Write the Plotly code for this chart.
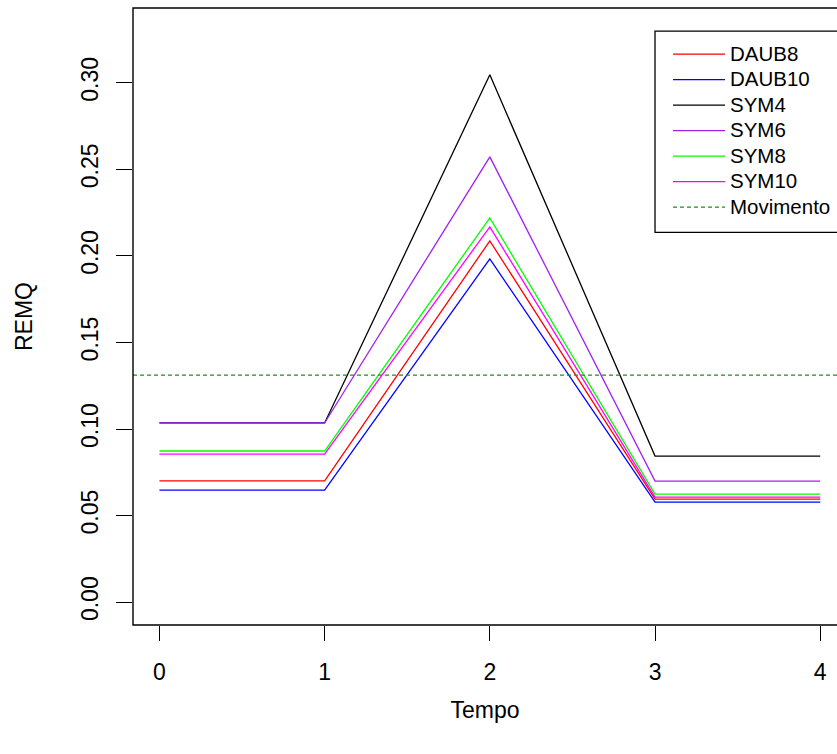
import plotly.graph_objects as go

# Error (REMQ) per wavelet family over time steps
tempo = [0, 1, 2, 3, 4]
daub8 = [0.0700, 0.0700, 0.2087, 0.0595, 0.0595]
daub10 = [0.0647, 0.0647, 0.1983, 0.0578, 0.0578]
sym4 = [0.1035, 0.1035, 0.3046, 0.0844, 0.0844]
sym6 = [0.1035, 0.1035, 0.2572, 0.0699, 0.0699]
sym8 = [0.0873, 0.0873, 0.2220, 0.0624, 0.0624]
sym10 = [0.0855, 0.0855, 0.2168, 0.0607, 0.0607]
movimento = 0.1311

series_names = ["DAUB8", "DAUB10", "SYM4", "SYM6", "SYM8", "SYM10"]
series_values = [daub8, daub10, sym4, sym6, sym8, sym10]
series_colors = ["#FF0000", "#0000FF", "#000000", "#A020F0", "#00FF00", "#FF00FF"]

y_ticks = [0.00, 0.05, 0.10, 0.15, 0.20, 0.25, 0.30]
x_lim = [-0.16, 4.16]
x_view = [-0.16, 4.1015]
y_lim = [-0.0132, 0.3432]

FONT = "Liberation Sans, Arial, sans-serif"
FS = 23
LEGEND_TEXT = 20.5


def legend_label(text):
    # larger glyphs while keeping the compact row spacing of the legend
    return f'<span style="font-size:{LEGEND_TEXT}px">{text}</span>'


fig = go.Figure()
for i, (name, vals, col) in enumerate(zip(series_names, series_values, series_colors)):
    fig.add_trace(go.Scatter(
        x=tempo, y=vals, mode="lines", name=legend_label(name),
        line=dict(color=col, width=1.3),
        legendgroup=f"g{i}",
    ))

fig.add_trace(go.Scatter(
    x=x_lim, y=[movimento, movimento], mode="lines", name=legend_label("Movimento"),
    line=dict(color="#228B22", width=1.3, dash="4px,3px"),
    legendgroup="g6",
))

# plot frame (extends past the right edge of the page)
fig.add_shape(type="rect", xref="paper", yref="paper", x0=0, x1=1.05, y0=0, y1=1,
              line=dict(color="#000000", width=1.4), layer="above")
# legend frame
fig.add_shape(type="rect", xref="paper", yref="paper", x0=0.7415, x1=1.05,
              y0=0.6364, y1=0.9624, line=dict(color="#000000", width=1.3), layer="above")

fig.update_layout(
    width=837, height=754,
    margin=dict(l=133, r=0, t=8, b=129),
    paper_bgcolor="white", plot_bgcolor="white",
    font=dict(family=FONT, size=FS, color="#000000"),
    showlegend=True,
    legend=dict(
        x=(668 - 133) / 704, y=(625 - 36) / 617.5, xanchor="left", yanchor="top",
        bgcolor="rgba(0,0,0,0)", borderwidth=0,
        font=dict(family=FONT, size=17.3, color="#000000"),
        tracegroupgap=0, itemwidth=52,
    ),
    xaxis=dict(
        range=x_view, tickvals=tempo, ticktext=[str(t) for t in tempo],
        ticks="outside", ticklen=15, tickwidth=1.3, tickcolor="#000000",
        showgrid=False, zeroline=False, showline=False,
        ticklabelstandoff=11,
        title=dict(text="Tempo", standoff=18, font=dict(size=FS)),
    ),
    yaxis=dict(
        range=y_lim, tickvals=y_ticks, ticktext=[f"{v:.2f}" for v in y_ticks],
        tickangle=-90,
        ticks="outside", ticklen=16, tickwidth=1.3, tickcolor="#000000",
        showgrid=False, zeroline=False, showline=False,
        ticklabelstandoff=9,
        title=dict(text="REMQ", standoff=37, font=dict(size=FS)),
    ),
)

fig.write_html("out.html")
